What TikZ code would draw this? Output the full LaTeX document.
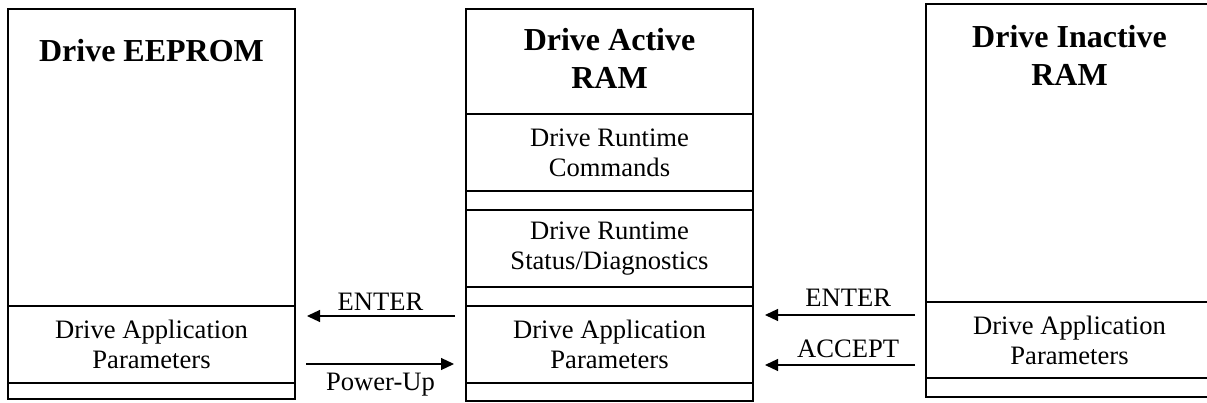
\documentclass[tikz,border=0pt]{standalone}
\usepackage{fontspec}
\setmainfont{Liberation Serif}
\usetikzlibrary{positioning,arrows.meta}

\tikzset{
  cell/.style={draw, line width=2pt, minimum width=287pt, inner sep=0pt, outer sep=0pt,
    align=center, font=\fontsize{26.6}{30}\selectfont},
  memtitle/.style={inner sep=0pt, align=center, anchor=north, font=\fontsize{32}{38}\selectfont\bfseries},
  flow/.style={-{Triangle[length=13pt,width=12pt]}, line width=1.2pt, shorten <=11pt, shorten >=12pt},
  lbl/.style={inner sep=0pt, font=\fontsize{26.6}{30}\selectfont}
}

\begin{document}
\begin{tikzpicture}[x=1pt, y=-1pt]
  \useasboundingbox (0,0) rectangle (1207,403);

  % EEPROM column
  \node[cell, minimum height=297pt, anchor=north west] (eeprom) at (8,9) {};
  \node[cell, minimum height=77pt, below=0pt of eeprom] (eepar) {Drive Application\\Parameters};
  \node[cell, minimum height=16pt, below=0pt of eepar] (eepad) {};
  \node[memtitle, below=30pt of eeprom.north] (eetitle) {Drive EEPROM};

  % active RAM column
  \node[cell, minimum height=105pt, anchor=north west] (actram) at (466,9) {};
  \node[cell, minimum height=77pt, below=0pt of actram] (actcmd) {Drive Runtime\\Commands};
  \node[cell, minimum height=19pt, below=0pt of actcmd] (actgapa) {};
  \node[cell, minimum height=77pt, below=0pt of actgapa] (actstat) {Drive Runtime\\Status/Diagnostics};
  \node[cell, minimum height=19pt, below=0pt of actstat] (actgapb) {};
  \node[cell, minimum height=77pt, below=0pt of actgapb] (actpar) {Drive Application\\Parameters};
  \node[cell, minimum height=18pt, below=0pt of actpar] (actpad) {};
  \node[memtitle, below=19pt of actram.north] (acttitle) {Drive Active\\RAM};

  % inactive RAM column (cut off at the right)
  \node[cell, minimum height=298pt, anchor=north west] (inram) at (926,4) {};
  \node[cell, minimum height=76pt, below=0pt of inram] (inpar) {Drive Application\\Parameters};
  \node[cell, minimum height=19pt, below=0pt of inpar] (inpad) {};
  \node[memtitle, below=21pt of inram.north] (intitle) {Drive Inactive\\RAM};

  % transfers
  \draw[flow] ([yshift=28.5pt]actpar.west) -- node[lbl, above=5pt] {ENTER} ([yshift=28.5pt]eepar.east);
  \draw[flow] ([yshift=-19.5pt]eepar.east) -- node[lbl, below=8pt] {Power-Up} ([yshift=-19.5pt]actpar.west);
  \draw[flow] ([yshift=25pt]inpar.west) coordinate (inenter) -- node[lbl, above=8pt, pos=.45] {ENTER} (inenter -| actpar.east);
  \draw[flow] ([yshift=-25pt]inpar.west) coordinate (inaccept) -- node[lbl, above=7pt, pos=.45] {ACCEPT} (inaccept -| actpar.east);
\end{tikzpicture}
\end{document}
